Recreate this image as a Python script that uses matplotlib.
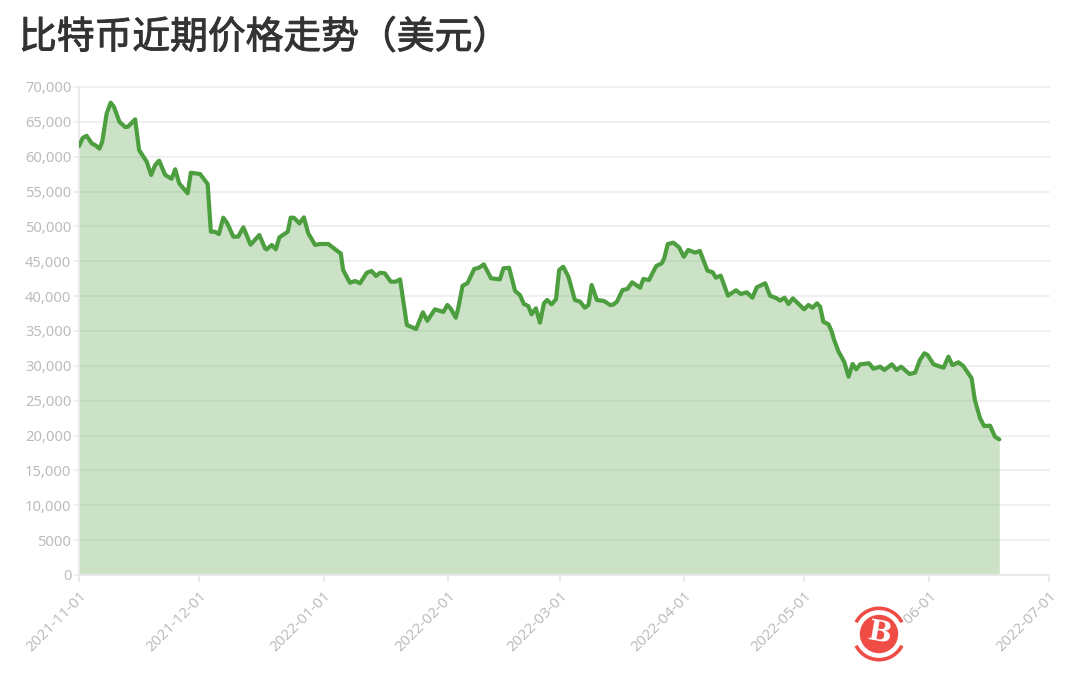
import numpy as np
import pandas as pd
import matplotlib
matplotlib.use("Agg")
import matplotlib.pyplot as plt
import matplotlib.patheffects as pe
from matplotlib.patches import Circle, Wedge

plt.rcParams['font.family'] = ['Noto Sans CJK SC', 'Noto Sans', 'DejaVu Sans']

title_text = "比特币近期价格走势（美元）"
start_date = "2021-11-01"
tick_dates = ["2021-11-01", "2021-12-01", "2022-01-01", "2022-02-01", "2022-03-01",
              "2022-04-01", "2022-05-01", "2022-06-01", "2022-07-01"]
y_ticks = list(range(0, 70001, 5000))
y_labels = ["0", "5000"] + [f"{v:,}" for v in y_ticks[2:]]

days = [0.0, 0.9, 1.9, 3.2, 4.2, 5.1, 5.8, 6.9, 7.9, 8.7, 10.1, 11.5, 12.2, 14.0, 15.0, 16.9, 18.0, 19.0,
        20.0, 21.5, 23.1, 24.0, 25.0, 27.1, 27.9, 30.2, 32.1, 32.9, 33.9, 34.9, 36.0, 37.0, 38.5, 39.7,
        41.0, 42.8, 45.0, 46.4, 46.8, 48.1, 49.1, 50.0, 52.1, 52.8, 53.6, 55.0, 56.1, 57.2, 58.9, 60.1,
        62.2, 64.7, 65.3, 65.9, 67.6, 68.9, 70.1, 71.8, 73.0, 74.1, 75.1, 76.3, 77.8, 79.0, 80.1, 81.8,
        84.1, 85.8, 86.9, 88.8, 90.9, 91.9, 92.7, 94.0, 94.6, 95.7, 96.9, 98.6, 99.8, 101.0, 102.8, 105.0,
        105.9, 107.3, 108.8, 110.0, 111.0, 112.1, 112.9, 114.0, 115.0, 116.0, 116.8, 117.9, 119.0, 119.8,
        120.8, 122.1, 123.7, 125.0, 126.2, 127.1, 127.9, 129.2, 131.0, 132.5, 133.2, 134.2, 135.6, 136.8,
        138.0, 140.0, 140.8, 142.2, 144.0, 145.4, 146.0, 146.9, 148.3, 149.7, 150.9, 152.0, 153.7, 154.9,
        156.8, 158.1, 158.9, 160.1, 161.9, 163.9, 165.1, 166.6, 168.0, 169.1, 171.2, 172.4, 174.1, 174.9,
        176.0, 177.0, 178.1, 180.9, 182.0, 183.0, 184.1, 184.9, 185.7, 187.0, 187.8, 188.4, 189.5, 190.9,
        192.0, 193.0, 193.9, 194.9, 197.1, 198.2, 199.9, 200.9, 202.8, 204.0, 205.1, 207.2, 208.6, 209.8,
        210.9, 211.7, 213.2, 214.4, 215.7, 216.9, 217.9, 219.4, 220.6, 222.7, 223.5, 224.8, 225.8, 227.3,
        228.5, 229.6]
prices = [61500, 62680, 63000, 61900, 61600, 61150, 62150, 66200, 67750, 67170, 65000, 64260, 64300, 65360,
          60960, 59280, 57380, 58800, 59430, 57380, 56840, 58200, 56180, 54750, 57700, 57520, 56080, 49240,
          49240, 48900, 51250, 50440, 48530, 48530, 49870, 47380, 48770, 46860, 46700, 47340, 46720, 48440,
          49240, 51250, 51250, 50440, 51300, 49000, 47340, 47480, 47480, 46370, 46140, 43750, 41920, 42170,
          41840, 43360, 43600, 42890, 43360, 43270, 42070, 42070, 42410, 35860, 35290, 37680, 36470, 38110,
          37730, 38730, 38250, 36900, 38250, 41500, 41840, 43890, 44080, 44560, 42560, 42410, 43990, 44080,
          40740, 40160, 38870, 38580, 37390, 38250, 36190, 38970, 39450, 38830, 39550, 43750, 44220, 42790,
          39450, 39210, 38340, 38730, 41600, 39450, 39300, 38730, 38770, 39200, 40880, 41020, 41980, 41210,
          42460, 42310, 44320, 44710, 45430, 47480, 47670, 47000, 45660, 46620, 46240, 46480, 43650, 43420,
          42650, 42940, 40070, 40840, 40310, 40550, 39780, 41270, 41840, 40070, 39680, 39350, 39780, 38870,
          39680, 38110, 38730, 38340, 38970, 38490, 36330, 35960, 34900, 33710, 32030, 30600, 28440, 30270,
          29500, 30220, 30370, 29590, 29880, 29400, 30220, 29400, 29880, 28830, 29020, 30840, 31800, 31560,
          30220, 29980, 29740, 31310, 30120, 30510, 29980, 28210, 25100, 22480, 21370, 21420, 19840, 19460]

W, H = 1073, 674
fig = plt.figure(figsize=(W / 100, H / 100), dpi=100, facecolor="white")
ax = fig.add_axes([79 / W, 1 - 575 / H, 970 / W, 488 / H])

t0 = pd.Timestamp(start_date)
tick_pos = [(pd.Timestamp(d) - t0).days for d in tick_dates]
xs = np.array(days)
ys = np.array(prices)

GREEN = "#4c9e3f"
GRID = "#f0f0f0"
LABEL = "#bcbcbc"

ax.set_xlim(tick_pos[0], tick_pos[-1])
ax.set_ylim(0, 70000)
ax.set_yticks(y_ticks, y_labels)
ax.set_xticks(tick_pos, tick_dates)
ax.grid(axis="y", color=GRID, lw=1.5, zorder=0, clip_on=False)
ax.set_axisbelow(True)
for s in ("top", "right"):
    ax.spines[s].set_visible(False)
for s in ("left", "bottom"):
    ax.spines[s].set_color("#eaeaea")
    ax.spines[s].set_linewidth(1.4)
ax.tick_params(axis="y", length=4.5, width=1.4, color=GRID, labelsize=10.6, labelcolor=LABEL, pad=1)
ax.tick_params(axis="x", length=5, width=1.4, color="#eaeaea", labelsize=10.8, labelcolor=LABEL, pad=5)
for lab in ax.get_yticklabels():
    lab.set_family(['Noto Sans', 'DejaVu Sans'])
for lab in ax.get_xticklabels():
    lab.set_family(['Noto Sans', 'DejaVu Sans'])
    lab.set_rotation(45)
    lab.set_ha("right")
    lab.set_va("top")
    lab.set_rotation_mode("anchor")

ax.fill_between(xs, ys, 0, color=GREEN, alpha=0.29, lw=0, zorder=2)
ax.plot(xs, ys, color=GREEN, lw=3.0, solid_joinstyle="round", solid_capstyle="round", zorder=3)

title = fig.text(19 / W, 1 - 38 / H, title_text, fontsize=27.2, color="#333333",
                 family=['Noto Sans CJK SC', 'DejaVu Sans'], ha="left", va="center")
title.set_path_effects([pe.withStroke(linewidth=0.7, foreground="#333333")])

# watermark logo, drawn in pixel-sized overlay axes
logo = fig.add_axes([(879 - 32) / W, 1 - (634 + 32) / H, 64 / W, 64 / H])
logo.set_xlim(-32, 32)
logo.set_ylim(-32, 32)
logo.axis("off")
RED = "#ef4c45"
logo.add_patch(Circle((0, 0), 29, color="white", lw=0))
logo.add_patch(Circle((0, 0), 19.2, color=RED, lw=0))
logo.add_patch(Wedge((0, 0), 27.5, 27, 153, width=3.6, color=RED, lw=0))
logo.add_patch(Wedge((0, 0), 27.5, 207, 333, width=3.6, color=RED, lw=0))
logo.text(0, 0, "B", color="white", fontsize=20, fontweight="bold", ha="center", va="center",
          rotation=-10, family=["DejaVu Serif"])

fig.savefig("out.png", dpi=100)
